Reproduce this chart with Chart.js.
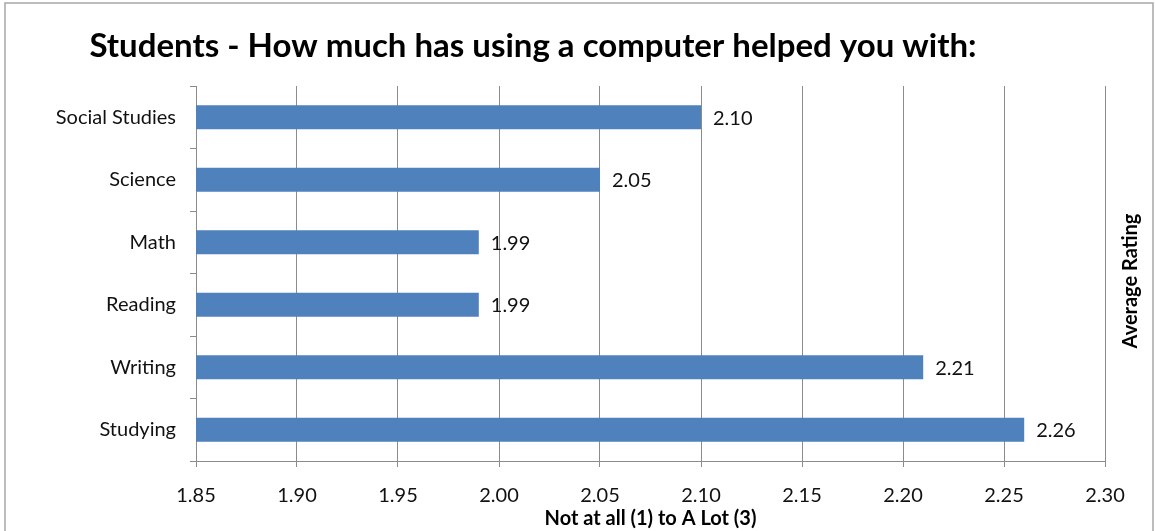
<!DOCTYPE html>
<html>
<head>
<meta charset="utf-8">
<script src="https://cdn.jsdelivr.net/npm/chart.js@4"></script>
<style>
  html, body { margin: 0; padding: 0; background: #fff; }
  #wrap { width: 1155px; height: 531px; position: relative; }
</style>
</head>
<body>
<div id="wrap"><canvas id="ratingChart" width="1155" height="531"></canvas></div>
<script>
// survey averages, top row first
const subjects = ['Social Studies', 'Science', 'Math', 'Reading', 'Writing', 'Studying'];
const ratings = [2.10, 2.05, 1.99, 1.99, 2.21, 2.26];
const xTicks = [1.85, 1.90, 1.95, 2.00, 2.05, 2.10, 2.15, 2.20, 2.25, 2.30];

const chartTitle = 'Students - How much has using a computer helped you with:';
const xTitle = 'Not at all (1) to A Lot (3)';
const sideTitle = 'Average Rating';

const FONT = 'Lato, "Open Sans", sans-serif';
const gridGrey = '#8c8c8c';

// frame, heading, right-hand caption and value labels
const extras = {
  id: 'extras',
  beforeDraw(chart) {
    const ctx = chart.ctx;
    ctx.save();
    ctx.strokeStyle = '#a6a6a6';
    ctx.lineWidth = 1.5;
    ctx.strokeRect(5, 3, 1148, 560);
    ctx.restore();
  },
  afterDraw(chart) {
    const ctx = chart.ctx;
    ctx.save();
    ctx.fillStyle = '#000';
    ctx.font = 'bold 33px ' + FONT;
    ctx.textAlign = 'center';
    ctx.textBaseline = 'middle';
    ctx.fillText(chartTitle, 533, 46);

    ctx.font = 'bold 20px ' + FONT;
    ctx.translate(1131, 281);
    ctx.rotate(-Math.PI / 2);
    ctx.fillText(sideTitle, 0, 0);
    ctx.restore();

    // value next to each bar end
    ctx.save();
    ctx.font = '20px ' + FONT;
    ctx.fillStyle = '#111';
    ctx.textAlign = 'left';
    ctx.textBaseline = 'middle';
    chart.getDatasetMeta(0).data.forEach((bar, i) => {
      ctx.fillText(ratings[i].toFixed(2), bar.x + 12, bar.y + 1);
    });
    ctx.restore();
  }
};

new Chart(document.getElementById('ratingChart'), {
  type: 'bar',
  data: {
    labels: subjects,
    datasets: [{
      data: ratings,
      backgroundColor: '#4f81bd',
      borderWidth: 0,
      categoryPercentage: 0.5,
      barPercentage: 0.77
    }]
  },
  options: {
    indexAxis: 'y',
    responsive: false,
    animation: false,
    layout: { padding: { top: 86, right: 50, left: 0, bottom: 0 } },
    plugins: {
      legend: { display: false },
      tooltip: { enabled: false }
    },
    scales: {
      x: {
        min: 1.85,
        max: 2.30,
        afterBuildTicks: axis => { axis.ticks = xTicks.map(v => ({ value: v })); },
        afterFit: axis => { axis.height = 70; },
        grid: { color: gridGrey, lineWidth: 1, tickLength: 6 },
        border: { color: gridGrey },
        ticks: {
          color: '#111',
          font: { family: FONT, size: 20 },
          padding: 17,
          callback: v => Number(v).toFixed(2)
        },
        title: {
          display: true,
          text: xTitle,
          color: '#000',
          font: { family: FONT, size: 20, weight: 'bold' },
          padding: { top: 0, bottom: 0 }
        }
      },
      y: {
        afterFit: axis => { axis.width = 196; },
        grid: { offset: true, drawOnChartArea: false, color: gridGrey, tickLength: 6 },
        border: { color: gridGrey },
        ticks: {
          color: '#111',
          font: { family: FONT, size: 20 },
          padding: 14
        }
      }
    }
  },
  plugins: [extras]
});
</script>
</body>
</html>
